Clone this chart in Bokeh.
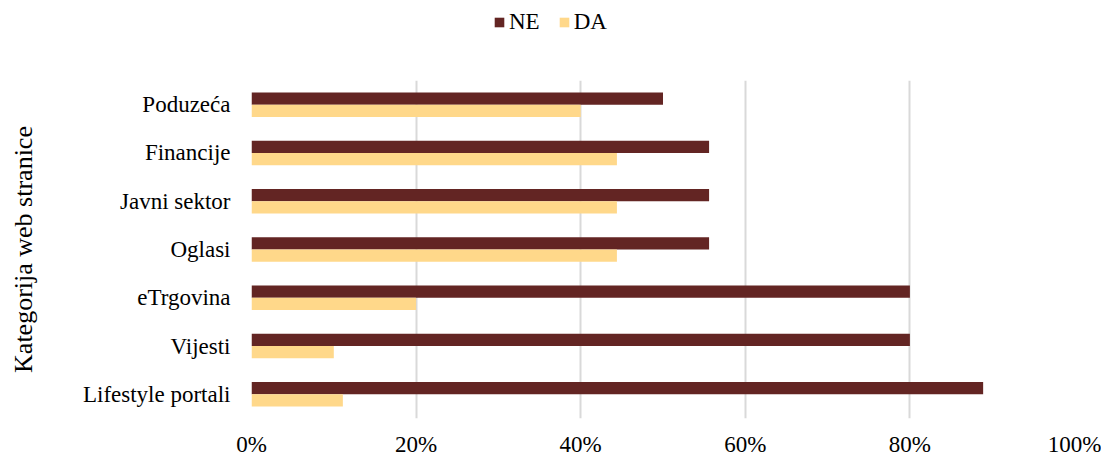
from bokeh.plotting import figure
from bokeh.layouts import column
from bokeh.models import FactorRange, Range1d, FixedTicker, PrintfTickFormatter, Legend, LegendItem, ColumnDataSource
from bokeh.transform import dodge
from bokeh.embed import file_html
from bokeh.resources import INLINE

categories = ["Poduzeća", "Financije", "Javni sektor", "Oglasi", "eTrgovina", "Vijesti", "Lifestyle portali"]
ne_values = [50.0, 55.6, 55.6, 55.6, 80.0, 80.0, 88.9]
da_values = [40.0, 44.4, 44.4, 44.4, 20.0, 10.0, 11.1]
x_ticks = [0, 20, 40, 60, 80, 100]
series_names = ["NE", "DA"]
series_colors = ["#632523", "#FFD88A"]
axis_title = "Kategorija web stranice"

FONT = "Liberation Serif"

src = ColumnDataSource(dict(cat=categories, ne=ne_values, da=da_values))

p = figure(frame_width=823, frame_height=338, output_backend="svg", toolbar_location=None,
           y_range=FactorRange(factors=list(reversed(categories))),
           x_range=Range1d(0, 100),
           min_border_left=251, min_border_right=27, min_border_top=0, min_border_bottom=38)
p.outline_line_color = None
p.background_fill_color = "white"

r_ne = p.hbar(y=dodge("cat", 0.127, range=p.y_range), right="ne", left=0, height=0.254,
              source=src, fill_color=series_colors[0], line_color=None)
r_da = p.hbar(y=dodge("cat", -0.127, range=p.y_range), right="da", left=0, height=0.254,
              source=src, fill_color=series_colors[1], line_color=None)

p.xaxis.ticker = FixedTicker(ticks=x_ticks)
p.xaxis.formatter = PrintfTickFormatter(format="%d%%")
for ax in (p.xaxis[0], p.yaxis[0]):
    ax.axis_line_color = None
    ax.major_tick_line_color = None
    ax.minor_tick_line_color = None
    ax.major_tick_out = 0
    ax.major_tick_in = 0
    ax.minor_tick_out = 0
    ax.minor_tick_in = 0
    ax.major_label_text_font = FONT
    ax.major_label_text_font_size = "23px"
    ax.major_label_text_color = "#000000"
p.xaxis.major_label_standoff = 13
p.yaxis.major_label_standoff = 21
p.yaxis.axis_label = axis_title
p.yaxis.axis_label_text_font = FONT
p.yaxis.axis_label_text_font_size = "26px"
p.yaxis.axis_label_text_font_style = "normal"
p.yaxis.axis_label_text_color = "#000000"
p.yaxis.axis_label_standoff = 42

p.ygrid.grid_line_color = None
p.xgrid.grid_line_color = "#D9D9D9"
p.xgrid.grid_line_width = 2

# Legend strip above the chart (separate figure so the legend can be centred on the whole page)
lg = figure(frame_width=1101, frame_height=80, output_backend="svg", toolbar_location=None,
            x_range=Range1d(0, 1), y_range=Range1d(0, 1),
            x_axis_location=None, y_axis_location=None,
            min_border_left=0, min_border_right=0, min_border_top=0, min_border_bottom=0)
lg.outline_line_color = None
lg.xgrid.grid_line_color = None
lg.ygrid.grid_line_color = None
l_ne = lg.hbar(y="ne", right="ne", height=1, source=src, fill_color=series_colors[0], line_color=None)
l_da = lg.hbar(y="da", right="da", height=1, source=src, fill_color=series_colors[1], line_color=None)
l_ne.visible = False
l_da.visible = False

legend = Legend(items=[LegendItem(label=series_names[0], renderers=[l_ne]),
                       LegendItem(label=series_names[1], renderers=[l_da])],
                orientation="horizontal", location=(493, 45),
                glyph_width=12, glyph_height=12, label_standoff=4, spacing=18,
                padding=0, margin=0, border_line_color=None, background_fill_alpha=0,
                inactive_fill_alpha=0,
                label_text_font=FONT, label_text_font_size="23px", label_text_color="#000000")
lg.add_layout(legend, "center")

layout = column(lg, p, spacing=0)
open("out.html", "w").write(file_html(layout, INLINE))
